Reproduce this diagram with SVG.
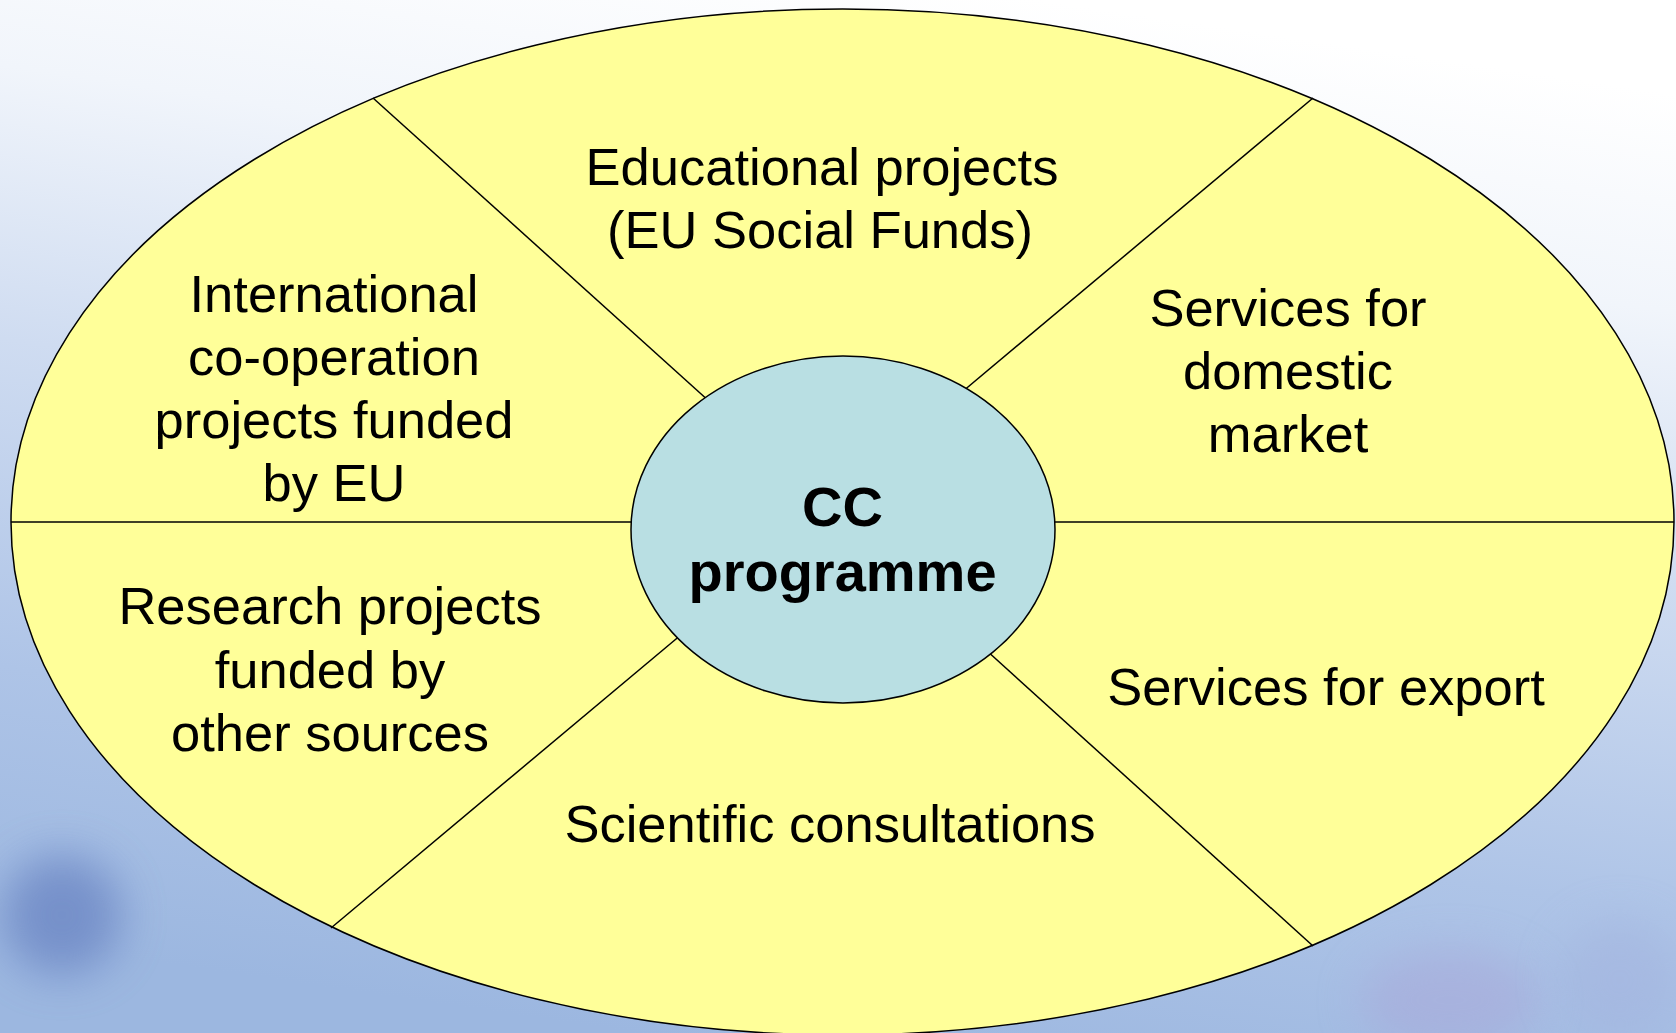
<svg xmlns="http://www.w3.org/2000/svg" width="1676" height="1033" viewBox="0 0 1676 1033">
  <defs>
    <linearGradient id="bg" x1="0.62" y1="0" x2="0.38" y2="1">
      <stop offset="0" stop-color="#ffffff"/>
      <stop offset="0.2" stop-color="#f1f5fb"/>
      <stop offset="0.45" stop-color="#cfdcf1"/>
      <stop offset="0.75" stop-color="#aec4e7"/>
      <stop offset="1" stop-color="#9cb7e0"/>
    </linearGradient>
    <filter id="blur" x="-50%" y="-50%" width="200%" height="200%">
      <feGaussianBlur stdDeviation="22"/>
    </filter>
    <style>
      .ring { fill: #FFFF99; stroke: #000; stroke-width: 1.5; }
      .core { fill: #B9DFE3; stroke: #000; stroke-width: 1.5; }
      .div { stroke: #000; stroke-width: 1.5; fill: none; }
      .lbl { font-family: "Liberation Sans", Arial, sans-serif; font-size: 52.5px; fill: #000; text-anchor: middle; }
      .ctr { font-family: "Liberation Sans", Arial, sans-serif; font-size: 56px; font-weight: bold; fill: #000; text-anchor: middle; }
    </style>
  </defs>

  <g id="background">
    <rect x="0" y="0" width="1676" height="1033" fill="url(#bg)"/>
    <circle cx="62" cy="915" r="60" fill="#6f8ac6" opacity="0.85" filter="url(#blur)"/>
    <ellipse cx="1450" cy="1000" rx="90" ry="50" fill="#a9a6d8" opacity="0.5" filter="url(#blur)"/>
    <ellipse cx="1620" cy="980" rx="60" ry="60" fill="#a3b2de" opacity="0.5" filter="url(#blur)"/>
  </g>

  <g id="outer-ring">
    <ellipse class="ring" cx="842.5" cy="522" rx="831.5" ry="513"/>
  </g>

  <g id="connectors">
    <line class="div" x1="11" y1="522" x2="640" y2="522"/>
    <line class="div" x1="1046" y1="522" x2="1674" y2="522"/>
    <line class="div" x1="373" y1="98" x2="710" y2="402"/>
    <line class="div" x1="1313" y1="98" x2="962" y2="392"/>
    <line class="div" x1="331" y1="928" x2="682" y2="634"/>
    <line class="div" x1="1313" y1="946" x2="986" y2="650"/>
  </g>

  <g id="center-node">
    <ellipse class="core" cx="843" cy="529.5" rx="212" ry="173.5"/>
    <text class="ctr" x="842.5" y="526">CC</text>
    <text class="ctr" x="842.5" y="591">programme</text>
  </g>

  <g id="node-educational">
    <text class="lbl" x="822" y="185">Educational projects</text>
    <text class="lbl" x="820" y="248">(EU Social Funds)</text>
  </g>

  <g id="node-international">
    <text class="lbl" x="334" y="312">International</text>
    <text class="lbl" x="334" y="375">co-operation</text>
    <text class="lbl" x="334" y="438">projects funded</text>
    <text class="lbl" x="334" y="501">by EU</text>
  </g>

  <g id="node-domestic">
    <text class="lbl" x="1288" y="326">Services for</text>
    <text class="lbl" x="1288" y="389">domestic</text>
    <text class="lbl" x="1288" y="452">market</text>
  </g>

  <g id="node-research">
    <text class="lbl" x="330" y="624">Research projects</text>
    <text class="lbl" x="330" y="688">funded by</text>
    <text class="lbl" x="330" y="751">other sources</text>
  </g>

  <g id="node-scientific">
    <text class="lbl" x="830" y="842">Scientific consultations</text>
  </g>

  <g id="node-export">
    <text class="lbl" x="1326" y="705">Services for export</text>
  </g>
</svg>
